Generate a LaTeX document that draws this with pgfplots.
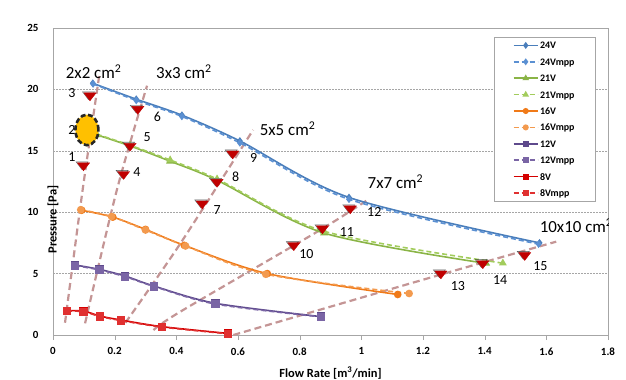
\documentclass[border=0pt]{standalone}
\usepackage{fontspec}
\setmainfont{Carlito}
\usepackage{pgfplots}
\pgfplotsset{compat=1.18}
\definecolor{c24}{HTML}{4A7EBB}
\definecolor{c24m}{HTML}{5B90D2}
\definecolor{c21}{HTML}{8AB446}
\definecolor{c21m}{HTML}{A2CC5C}
\definecolor{c16}{HTML}{F07A18}
\definecolor{c16m}{HTML}{F39A4E}
\definecolor{c12}{HTML}{5E4A8C}
\definecolor{c12m}{HTML}{7A65A5}
\definecolor{c8}{HTML}{D40000}
\definecolor{c8m}{HTML}{E03030}
\definecolor{sys}{HTML}{C49595}
\definecolor{tri}{HTML}{C00000}
\definecolor{ell}{HTML}{FFC000}
\definecolor{frame}{HTML}{A6A6A6}
\begin{document}
\begin{tikzpicture}
\begin{axis}[
  scale only axis, width=555bp, height=307bp,
  xmin=0, xmax=1.8, ymin=0, ymax=25,
  xtick={0,0.2,0.4,0.6,0.8,1,1.2,1.4,1.6,1.8},
  xticklabels={0,0.2,0.4,0.6,0.8,1,1.2,1.4,1.6,1.8},
  ytick={0,5,10,15,20,25},
  /pgf/number format/assume math mode=true,
  ticklabel style={font=\fontsize{11}{13}\selectfont\bfseries},
  xticklabel style={yshift=-4bp},
  yticklabel style={xshift=-6bp},
  axis line style={draw=frame},
  xtick pos=lower, tick align=outside, major tick length=5bp,
  x tick style={draw=frame},
  y tick style={draw=none},
  ymajorgrids, grid style={draw=frame, dash pattern=on 1.5bp off 1.5bp},
  xlabel={Flow Rate [m\textsuperscript{3}/min]},
  ylabel={Pressure [Pa]},
  xlabel style={at={(axis description cs:0.5,0)}, anchor=center, yshift=-38bp, font=\fontsize{12.5}{14}\selectfont\bfseries},
  ylabel style={at={(axis description cs:0,0.5)}, anchor=center, xshift=-38bp, font=\fontsize{12.5}{14}\selectfont\bfseries},
  legend style={at={(rel axis cs:0.977,0.971)}, anchor=north east, draw=frame,
    font=\fontsize{10}{11}\selectfont\bfseries, inner xsep=19bp, inner ysep=3.3bp, row sep=6.4bp,
    nodes={inner sep=1.5bp, text height=7bp, text depth=0bp}},
  legend cell align=left,
  legend image code/.code={\draw[mark repeat=2,mark phase=2,mark size=2.2bp] plot coordinates {(0bp,0bp) (12bp,0bp) (24bp,0bp)};},
]
% system curves
\addplot[forget plot, sys, line width=2.2bp, dash pattern=on 7bp off 4bp, smooth] coordinates {(0.039,1.0) (0.096,11.8) (0.151,21.3)};
\addplot[forget plot, sys, line width=2.2bp, dash pattern=on 7bp off 4bp, smooth] coordinates {(0.104,0.95) (0.207,11.8) (0.305,20.3)};
\addplot[forget plot, sys, line width=2.2bp, dash pattern=on 7bp off 4bp, smooth] coordinates {(0.235,1.0) (0.413,7.45) (0.649,16.7)};
\addplot[forget plot, sys, line width=2.2bp, dash pattern=on 7bp off 4bp, smooth] coordinates {(0.326,0.4) (0.413,1.9) (0.863,8.5) (1.026,11.1)};
\addplot[forget plot, sys, line width=2.2bp, dash pattern=on 7bp off 4bp, smooth] coordinates {(0.585,0.0) (1.259,4.93) (1.632,7.6)};
% fan curves
\addplot[c24, line width=1.6bp, smooth, mark=diamond*, mark size=2.6bp] coordinates {(0.129,20.5) (0.27,19.2) (0.418,17.9) (0.606,15.8) (0.96,11.2) (1.578,7.5)};
\addlegendentry{24V}
\addplot[c24m, line width=1.6bp, dash pattern=on 5bp off 3bp, smooth, mark=diamond*, mark size=2.6bp, mark options={solid}] coordinates {(0.13,20.45) (0.27,19.1) (0.418,17.8) (0.606,15.65) (0.96,11.05) (1.575,7.4)};
\addlegendentry{24Vmpp}
\addplot[c21, line width=1.6bp, smooth, mark=triangle*, mark size=3bp] coordinates {(0.142,16.3) (0.25,15.4) (0.38,14.15) (0.532,12.6) (0.879,8.3) (1.405,5.83)};
\addlegendentry{21V}
\addplot[c21m, line width=1.6bp, dash pattern=on 5bp off 3bp, smooth, mark=triangle*, mark size=3bp, mark options={solid}] coordinates {(0.142,16.35) (0.25,15.45) (0.38,14.25) (0.532,12.7) (0.879,8.45) (1.459,5.85)};
\addlegendentry{21Vmpp}
\addplot[c16, line width=1.6bp, smooth, mark=*, mark size=3bp] coordinates {(0.093,10.16) (0.194,9.6) (0.30,8.6) (0.426,7.3) (0.695,5.0) (1.118,3.3)};
\addlegendentry{16V}
\addplot[c16m, line width=1.6bp, dash pattern=on 5bp off 3bp, smooth, mark=*, mark size=3bp, mark options={solid}] coordinates {(0.09,10.2) (0.19,9.65) (0.30,8.55) (0.43,7.25) (0.69,4.95) (1.155,3.38)};
\addlegendentry{16Vmpp}
\addplot[c12, line width=1.6bp, smooth, mark=square*, mark size=3.3bp] coordinates {(0.072,5.7) (0.151,5.34) (0.234,4.8) (0.328,3.98) (0.527,2.58) (0.868,1.5)};
\addlegendentry{12V}
\addplot[c12m, line width=1.6bp, dash pattern=on 5bp off 3bp, smooth, mark=square*, mark size=3.3bp, mark options={solid}] coordinates {(0.072,5.65) (0.151,5.3) (0.234,4.75) (0.328,3.95) (0.527,2.52) (0.868,1.48)};
\addlegendentry{12Vmpp}
\addplot[c8, line width=1.6bp, smooth, mark=square*, mark size=3.3bp] coordinates {(0.045,1.98) (0.099,1.95) (0.153,1.54) (0.22,1.22) (0.353,0.68) (0.567,0.13)};
\addlegendentry{8V}
\addplot[c8m, line width=1.6bp, dash pattern=on 5bp off 3bp, smooth, mark=square*, mark size=3.3bp, mark options={solid}] coordinates {(0.045,1.95) (0.099,1.9) (0.153,1.5) (0.22,1.18) (0.353,0.65) (0.567,0.1)};
\addlegendentry{8Vmpp}
% labels
\begin{scope}[font=\fontsize{14}{16}\selectfont]
\node at (axis cs:0.061,14.5) {1};
\node at (axis cs:0.061,16.7) {2};
\node at (axis cs:0.061,19.7) {3};
\node at (axis cs:0.272,13.28) {4};
\node at (axis cs:0.305,16.1) {5};
\node at (axis cs:0.339,17.8) {6};
\node at (axis cs:0.532,10.16) {7};
\node at (axis cs:0.592,12.87) {8};
\node at (axis cs:0.651,14.41) {9};
\node at (axis cs:0.822,6.59) {10};
\node at (axis cs:0.953,8.35) {11};
\node at (axis cs:1.042,9.98) {12};
\node at (axis cs:1.313,3.98) {13};
\node at (axis cs:1.45,4.47) {14};
\node at (axis cs:1.581,5.61) {15};
\end{scope}
\begin{scope}[font=\fontsize{17}{19}\selectfont]
\node[anchor=base west, inner sep=0pt] at (axis cs:0.041,20.87) {2x2 cm\textsuperscript{2}};
\node[anchor=base west, inner sep=0pt] at (axis cs:0.334,20.9) {3x3 cm\textsuperscript{2}};
\node[anchor=base west, inner sep=0pt] at (axis cs:0.67,16.26) {5x5 cm\textsuperscript{2}};
\node[anchor=base west, inner sep=0pt] at (axis cs:1.02,11.93) {7x7 cm\textsuperscript{2}};
\node[anchor=base west, inner sep=0pt] at (axis cs:1.578,8.35) {10x10 cm\textsuperscript{2}};
\end{scope}
% operating points
\addplot[forget plot, only marks, mark=triangle*, mark size=7bp, mark options={rotate=180, yscale=0.75, xshift=1.5bp, yshift=-1.5bp, draw=none, fill=black!35, opacity=0.6}] coordinates {
(0.099,13.8) (0.11,16.7) (0.12,19.5) (0.229,13.1) (0.25,15.4) (0.275,18.4) (0.484,10.7) (0.532,12.46) (0.583,14.77) (0.781,7.3) (0.874,8.67) (0.964,10.3) (1.258,5.0) (1.394,5.83) (1.53,6.5)};
\addplot[forget plot, only marks, mark=triangle*, mark size=7bp, mark options={rotate=180, yscale=0.75, draw=tri, fill=tri}] coordinates {
(0.099,13.8) (0.11,16.7) (0.12,19.5) (0.229,13.1) (0.25,15.4) (0.275,18.4) (0.484,10.7) (0.532,12.46) (0.583,14.77) (0.781,7.3) (0.874,8.67) (0.964,10.3) (1.258,5.0) (1.394,5.83) (1.53,6.5)};
\addplot[forget plot, only marks, mark=*, mark size=11.5bp, mark options={yscale=1.33, fill=ell, draw=black!85, line width=2.6bp, dash pattern=on 5bp off 2.5bp}] coordinates {(0.11,16.7)};
\node[font=\fontsize{14}{16}\selectfont\bfseries] at (rel axis cs:0.483,1) [yshift=14bp] {P-Q Curve - Regular Fan casing vs MPP (751 rayls)};
\end{axis}
\pgfresetboundingbox
\path[use as bounding box] (-53bp,-45bp) rectangle (573bp,335bp);
\end{tikzpicture}
\end{document}
